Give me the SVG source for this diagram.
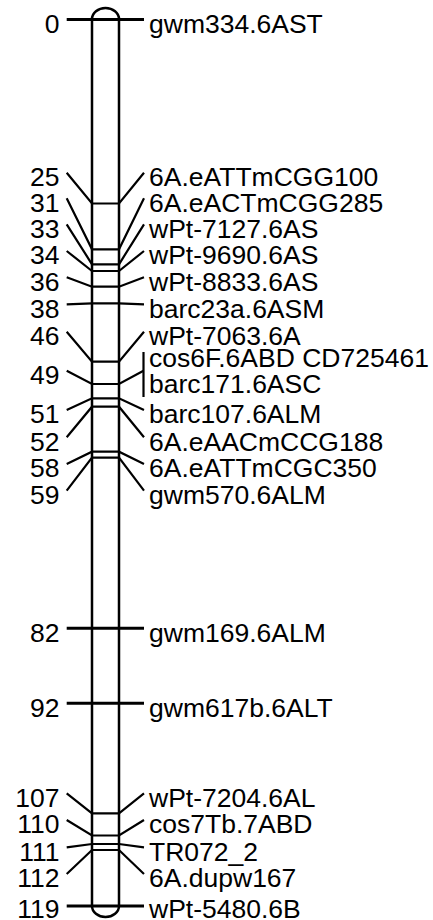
<svg xmlns="http://www.w3.org/2000/svg" width="433" height="920" viewBox="0 0 433 920">
<style>
text{font-family:"Liberation Sans",Arial,sans-serif;font-size:26.5px;fill:#000}
.l{text-anchor:end}
.c{stroke:#000;stroke-width:2.2;fill:none}
.t{stroke:#000;stroke-width:3;fill:none}
.chr{stroke:#000;stroke-width:2.5;fill:#fff}
</style>
<rect width="433" height="920" fill="#fff"/>
<g id="chromosome">
<rect class="chr" x="92" y="8" width="27" height="909" rx="13.5" ry="11"/>
</g>
<g id="connectors">
<line class="t" x1="66.7" y1="19.5" x2="144" y2="19.5"/>
<polyline class="c" points="66.7,172.7 92,203.5 119,203.5 144,172.7"/>
<polyline class="c" points="66.7,198.3 92,249.3 119,249.3 144,198.3"/>
<polyline class="c" points="66.7,224.3 92,264.3 119,264.3 144,224.3"/>
<polyline class="c" points="66.7,251 92,271 119,271 144,251"/>
<polyline class="c" points="66.7,277.3 92,286.7 119,286.7 144,277.3"/>
<polyline class="c" points="66.7,304.3 92,303.3 119,303.3 144,304.3"/>
<polyline class="c" points="66.7,331.7 92,361.7 119,361.7 144,331.7"/>
<polyline class="c" points="66.7,370.7 92,384 119,384 143.5,370.7"/>
<line class="c" x1="143.5" y1="352" x2="143.5" y2="397"/>
<polyline class="c" points="66.7,410 92,398.3 119,398.3 144,410"/>
<polyline class="c" points="66.7,437.3 92,406.7 119,406.7 144,437.3"/>
<polyline class="c" points="66.7,464 92,451.7 119,451.7 144,464"/>
<polyline class="c" points="66.7,490.7 92,457.7 119,457.7 144,490.7"/>
<line class="t" x1="66.7" y1="628.3" x2="144" y2="628.3"/>
<line class="t" x1="66.7" y1="703.3" x2="144" y2="703.3"/>
<polyline class="c" points="66.7,793.3 92,813.3 119,813.3 144,793.3"/>
<polyline class="c" points="66.7,820 92,835.5 119,835.5 144,820"/>
<polyline class="c" points="66.7,847.3 92,844 119,844 144,847.3"/>
<polyline class="c" points="66.7,874 92,850 119,850 144,874"/>
<line class="t" x1="66.7" y1="906" x2="144" y2="906" stroke-width="3.5"/>
</g>
<g id="m0"><text class="l" x="59.5" y="32.7">0</text><text x="149" y="32.7">gwm334.6AST</text></g>
<g id="m25"><text class="l" x="59.5" y="185.9">25</text><text x="149" y="185.9">6A.eATTmCGG100</text></g>
<g id="m31"><text class="l" x="59.5" y="211.5">31</text><text x="149" y="211.5">6A.eACTmCGG285</text></g>
<g id="m33"><text class="l" x="59.5" y="237.5">33</text><text x="149" y="237.5">wPt-7127.6AS</text></g>
<g id="m34"><text class="l" x="59.5" y="264.2">34</text><text x="149" y="264.2">wPt-9690.6AS</text></g>
<g id="m36"><text class="l" x="59.5" y="290.5">36</text><text x="149" y="290.5">wPt-8833.6AS</text></g>
<g id="m38"><text class="l" x="59.5" y="317.5">38</text><text x="149" y="317.5">barc23a.6ASM</text></g>
<g id="m46"><text class="l" x="59.5" y="344.9">46</text><text x="149" y="344.9">wPt-7063.6A</text></g>
<g id="m49"><text class="l" x="59.5" y="383.9">49</text><text x="149" y="366.7">cos6F.6ABD CD725461</text><text x="149" y="393.3">barc171.6ASC</text></g>
<g id="m51"><text class="l" x="59.5" y="423.2">51</text><text x="149" y="423.2">barc107.6ALM</text></g>
<g id="m52"><text class="l" x="59.5" y="450.5">52</text><text x="149" y="450.5">6A.eAACmCCG188</text></g>
<g id="m58"><text class="l" x="59.5" y="477.2">58</text><text x="149" y="477.2">6A.eATTmCGC350</text></g>
<g id="m59"><text class="l" x="59.5" y="503.9">59</text><text x="149" y="503.9">gwm570.6ALM</text></g>
<g id="m82"><text class="l" x="59.5" y="641.5">82</text><text x="149" y="641.5">gwm169.6ALM</text></g>
<g id="m92"><text class="l" x="59.5" y="716.5">92</text><text x="149" y="716.5">gwm617b.6ALT</text></g>
<g id="m107"><text class="l" x="59.5" y="806.5">107</text><text x="149" y="806.5">wPt-7204.6AL</text></g>
<g id="m110"><text class="l" x="59.5" y="833.2">110</text><text x="149" y="833.2">cos7Tb.7ABD</text></g>
<g id="m111"><text class="l" x="59.5" y="860.5">111</text><text x="149" y="860.5">TR072_2</text></g>
<g id="m112"><text class="l" x="59.5" y="887.2">112</text><text x="149" y="887.2">6A.dupw167</text></g>
<g id="m119"><text class="l" x="59.5" y="918">119</text><text x="149" y="918">wPt-5480.6B</text></g>
</svg>
